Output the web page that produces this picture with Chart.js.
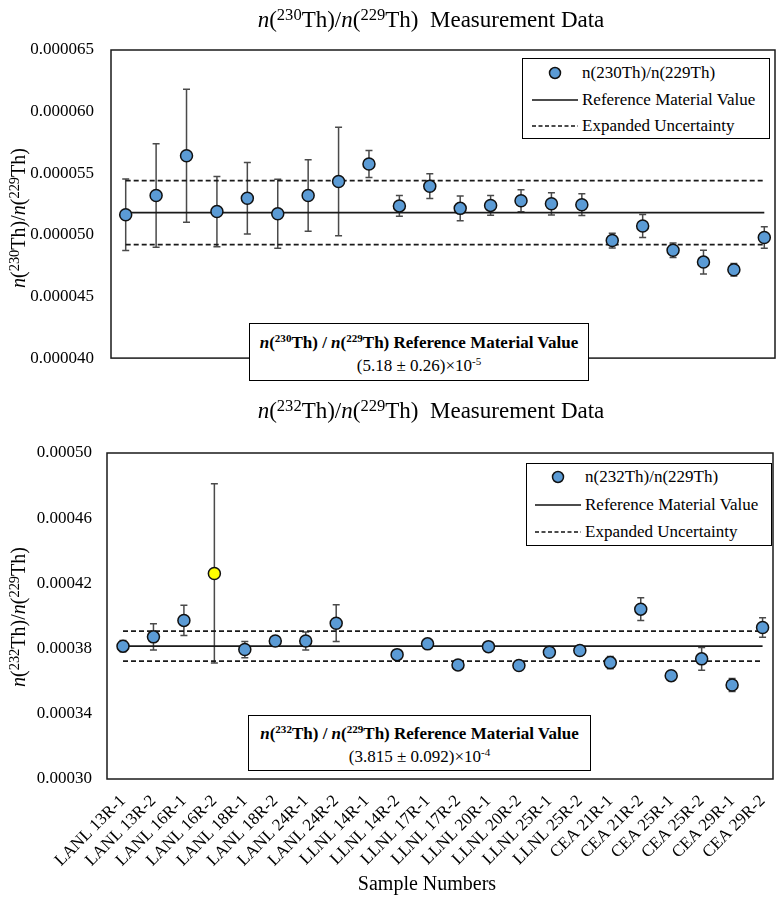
<!DOCTYPE html>
<html>
<head>
<meta charset="utf-8">
<script src="https://cdn.jsdelivr.net/npm/chart.js@4.4.1/dist/chart.umd.min.js"></script>
<style>
  body { margin: 0; background: #fff; font-family: 'Liberation Serif', 'Times New Roman', serif; color: #000; }
  #page { position: relative; width: 781px; height: 900px; overflow: hidden; }
  canvas { position: absolute; left: 0; }
  sup { font-size: 0.65em; vertical-align: 0; position: relative; top: -0.5em; }
  .title { position: absolute; left: 131px; width: 600px; height: 28px; line-height: 28px; font-size: 23px; text-align: center; white-space: nowrap; }
  .title sup, .ytitle sup { font-size: 0.72em; top: -0.45em; }
  .ytitle { position: absolute; left: -132px; width: 300px; height: 24px; line-height: 24px; font-size: 20px; text-align: center; transform: rotate(-90deg); white-space: nowrap; }
  .note { position: absolute; border: 1.5px solid #000; box-sizing: border-box; text-align: center; font-size: 17px; line-height: 22px; white-space: nowrap; background: #fff; }
  .legend { position: absolute; border: 1.5px solid #000; box-sizing: border-box; background: #fff; font-size: 17px; }
  .legend .row { position: absolute; left: 0; height: 26px; width: 100%; }
  .legend svg { position: absolute; left: 0; top: 0; }
  .legend span { position: absolute; top: 0; line-height: 26px; white-space: nowrap; }
  .xtitle { position: absolute; left: 0; width: 854px; top: 872px; font-size: 20px; text-align: center; }
</style>
</head>
<body>
<div id="page">
  <canvas id="chart230" width="781" height="400" style="top:0"></canvas>
  <canvas id="chart232" width="781" height="500" style="top:400px"></canvas>

  <div class="title" style="top:6px"><i>n</i>(<sup>230</sup>Th)/<i>n</i>(<sup>229</sup>Th)&nbsp; Measurement Data</div>
  <div class="title" style="top:397px"><i>n</i>(<sup>232</sup>Th)/<i>n</i>(<sup>229</sup>Th)&nbsp; Measurement Data</div>

  <div class="ytitle" style="top:206px"><i>n</i>(<sup>230</sup>Th)/<i>n</i>(<sup>229</sup>Th)</div>
  <div class="ytitle" style="top:605px"><i>n</i>(<sup>232</sup>Th)/<i>n</i>(<sup>229</sup>Th)</div>

  <div class="note" style="left:249px; top:323px; width:340px; height:58px; padding-top:8px">
    <b><i>n</i>(<sup>230</sup>Th) / <i>n</i>(<sup>229</sup>Th) Reference Material Value</b><br>
    (5.18 ± 0.26)×10<sup>-5</sup>
  </div>
  <div class="note" style="left:248px; top:715px; width:343px; height:56px; padding-top:7px">
    <b><i>n</i>(<sup>232</sup>Th) / <i>n</i>(<sup>229</sup>Th) Reference Material Value</b><br>
    (3.815 ± 0.092)×10<sup>-4</sup>
  </div>

  <div class="legend" style="left:522px; top:58px; width:248px; height:81px">
    <div class="row" style="top:1px">
      <svg width="58" height="26"><circle cx="32" cy="13" r="5.5" fill="#5B9BD5" stroke="#111" stroke-width="1.5"/></svg>
      <span style="left:59px">n(230Th)/n(229Th)</span>
    </div>
    <div class="row" style="top:28px">
      <svg width="58" height="26"><line x1="9" y1="13" x2="55" y2="13" stroke="#111" stroke-width="1.5"/></svg>
      <span style="left:59px">Reference Material Value</span>
    </div>
    <div class="row" style="top:54px">
      <svg width="58" height="26"><line x1="9" y1="13" x2="55" y2="13" stroke="#111" stroke-width="1.5" stroke-dasharray="4,2.5"/></svg>
      <span style="left:59px">Expanded Uncertainty</span>
    </div>
  </div>
  <div class="legend" style="left:526px; top:463px; width:246px; height:83px">
    <div class="row" style="top:0px">
      <svg width="58" height="26"><circle cx="31" cy="13" r="5.5" fill="#5B9BD5" stroke="#111" stroke-width="1.5"/></svg>
      <span style="left:58px">n(232Th)/n(229Th)</span>
    </div>
    <div class="row" style="top:28px">
      <svg width="58" height="26"><line x1="8" y1="13" x2="54" y2="13" stroke="#111" stroke-width="1.5"/></svg>
      <span style="left:58px">Reference Material Value</span>
    </div>
    <div class="row" style="top:55px">
      <svg width="58" height="26"><line x1="8" y1="13" x2="54" y2="13" stroke="#111" stroke-width="1.5" stroke-dasharray="4,2.5"/></svg>
      <span style="left:58px">Expanded Uncertainty</span>
    </div>
  </div>

  <div class="xtitle">Sample Numbers</div>
</div>

<script>
// sample names on the x axis
const sampleNames = [
  'LANL 13R-1', 'LANL 13R-2', 'LANL 16R-1', 'LANL 16R-2', 'LANL 18R-1', 'LANL 18R-2', 'LANL 24R-1', 'LANL 24R-2',
  'LLNL 14R-1', 'LLNL 14R-2', 'LLNL 17R-1', 'LLNL 17R-2', 'LLNL 20R-1', 'LLNL 20R-2', 'LLNL 25R-1', 'LLNL 25R-2',
  'CEA 21R-1', 'CEA 21R-2', 'CEA 25R-1', 'CEA 25R-2', 'CEA 29R-1', 'CEA 29R-2'
];

// n(230Th)/n(229Th) measurements and their uncertainties
const th230Values = [
  5.163e-5, 5.319e-5, 5.642e-5, 5.189e-5, 5.297e-5, 5.171e-5, 5.319e-5, 5.433e-5,
  5.575e-5, 5.235e-5, 5.395e-5, 5.215e-5, 5.239e-5, 5.277e-5, 5.252e-5, 5.245e-5,
  4.954e-5, 5.072e-5, 4.875e-5, 4.779e-5, 4.717e-5, 4.979e-5
];
const th230Errors = [
  2.9e-6, 4.2e-6, 5.4e-6, 2.85e-6, 2.9e-6, 2.8e-6, 2.9e-6, 4.4e-6,
  1.1e-6, 0.85e-6, 1.0e-6, 1.0e-6, 0.8e-6, 0.9e-6, 0.9e-6, 0.88e-6,
  0.6e-6, 0.93e-6, 0.58e-6, 0.97e-6, 0.5e-6, 0.87e-6
];
const th230Ref = 5.18e-5;
const th230Unc = 0.26e-5;

// n(232Th)/n(229Th) measurements (LLNL 14R-1 has no value)
const th232Values = [
  3.815e-4, 3.872e-4, 3.973e-4, 4.261e-4, 3.794e-4, 3.847e-4, 3.847e-4, 3.956e-4,
  null, 3.763e-4, 3.829e-4, 3.700e-4, 3.812e-4, 3.696e-4, 3.778e-4, 3.788e-4,
  3.714e-4, 4.042e-4, 3.634e-4, 3.737e-4, 3.577e-4, 3.929e-4
];
const th232Errors = [
  3.5e-6, 8e-6, 9.3e-6, 5.5e-5, 5e-6, 2e-6, 5.5e-6, 11.3e-6,
  null, 1.5e-6, 1.5e-6, 1.5e-6, 1.5e-6, 1.5e-6, 1.5e-6, 1.5e-6,
  3.7e-6, 7e-6, 3e-6, 7e-6, 4e-6, 6e-6
];
const th232Ref = 3.815e-4;
const th232Unc = 0.092e-4;

// y axis ticks
const th230Ticks = [0.000040, 0.000045, 0.000050, 0.000055, 0.000060, 0.000065];
const th232Ticks = [0.00030, 0.00034, 0.00038, 0.00042, 0.00046, 0.00050];

const blue = '#5B9BD5';
const yellow = '#FFFF00';
const flagged = 3; // LANL 16R-2 shown in yellow on the lower chart
const serif = "'Liberation Serif', 'Times New Roman', serif";

// draws the plot frame and the error bars behind the points
function errorBarsPlugin(values, errors, frameLeft, frameRight) {
  return {
    id: 'errorBars',
    beforeDatasetsDraw(chart) {
      const { ctx, chartArea, scales } = chart;
      ctx.save();
      ctx.strokeStyle = '#1a1a1a';
      ctx.lineWidth = 1.5;
      ctx.strokeRect(frameLeft, chartArea.top, frameRight - frameLeft, chartArea.bottom - chartArea.top);

      ctx.strokeStyle = '#4a4a4a';
      ctx.lineWidth = 1.5;
      values.forEach((v, i) => {
        if (v === null) return;
        const px = scales.x.getPixelForValue(i);
        const top = scales.y.getPixelForValue(v + errors[i]);
        const bot = scales.y.getPixelForValue(v - errors[i]);
        ctx.beginPath();
        ctx.moveTo(px, top); ctx.lineTo(px, bot);
        ctx.moveTo(px - 3.5, top); ctx.lineTo(px + 3.5, top);
        ctx.moveTo(px - 3.5, bot); ctx.lineTo(px + 3.5, bot);
        ctx.stroke();
      });
      ctx.restore();
    }
  };
}

function makeDatasets(values, ref, unc, colors) {
  const lineStyle = { borderColor: '#1a1a1a', borderWidth: 1.8, pointRadius: 0, fill: false, clip: false };
  return [
    { data: values, showLine: false, pointRadius: 6, pointHoverRadius: 6,
      pointBackgroundColor: colors, pointBorderColor: '#111', pointBorderWidth: 1.5, order: 0, clip: false },
    Object.assign({ data: sampleNames.map(() => ref), order: 1 }, lineStyle),
    Object.assign({ data: sampleNames.map(() => ref + unc), borderDash: [5, 3], order: 2 }, lineStyle),
    Object.assign({ data: sampleNames.map(() => ref - unc), borderDash: [5, 3], order: 2 }, lineStyle)
  ];
}

function yScale(ticks, digits, width, pad) {
  return {
    min: ticks[0],
    max: ticks[ticks.length - 1],
    afterBuildTicks: s => { s.ticks = ticks.map(v => ({ value: v })); },
    afterFit: s => { s.width = width; },
    ticks: { callback: v => v.toFixed(digits), font: { family: serif, size: 17 }, color: '#000', padding: pad },
    grid: { display: false, drawTicks: false },
    border: { display: false }
  };
}

// upper chart
new Chart(document.getElementById('chart230'), {
  type: 'line',
  data: { labels: sampleNames, datasets: makeDatasets(th230Values, th230Ref, th230Unc, blue) },
  options: {
    responsive: false,
    animation: false,
    events: [],
    layout: { padding: { top: 50, right: 16.7, bottom: 12, left: 0 } },
    plugins: { legend: { display: false }, tooltip: { enabled: false } },
    scales: {
      x: { type: 'category', offset: false, display: false },
      y: yScale(th230Ticks, 6, 125.7, 31.7)
    }
  },
  plugins: [errorBarsPlugin(th230Values, th230Errors, 111, 775)]
});

// lower chart
new Chart(document.getElementById('chart232'), {
  type: 'line',
  data: {
    labels: sampleNames,
    datasets: makeDatasets(th232Values, th232Ref, th232Unc, sampleNames.map((_, i) => i === flagged ? yellow : blue))
  },
  options: {
    responsive: false,
    animation: false,
    events: [],
    layout: { padding: { top: 53, right: 16, bottom: 0, left: 0 } },
    plugins: { legend: { display: false }, tooltip: { enabled: false } },
    scales: {
      x: {
        type: 'category',
        offset: false,
        afterFit: s => { s.height = 121; },
        ticks: { autoSkip: false, maxRotation: 45, minRotation: 45, padding: 4, font: { family: serif, size: 17 }, color: '#000' },
        grid: { display: false },
        border: { display: false }
      },
      y: yScale(th232Ticks, 5, 123, 31)
    }
  },
  plugins: [errorBarsPlugin(th232Values, th232Errors, 107, 773)]
});
</script>
</body>
</html>
